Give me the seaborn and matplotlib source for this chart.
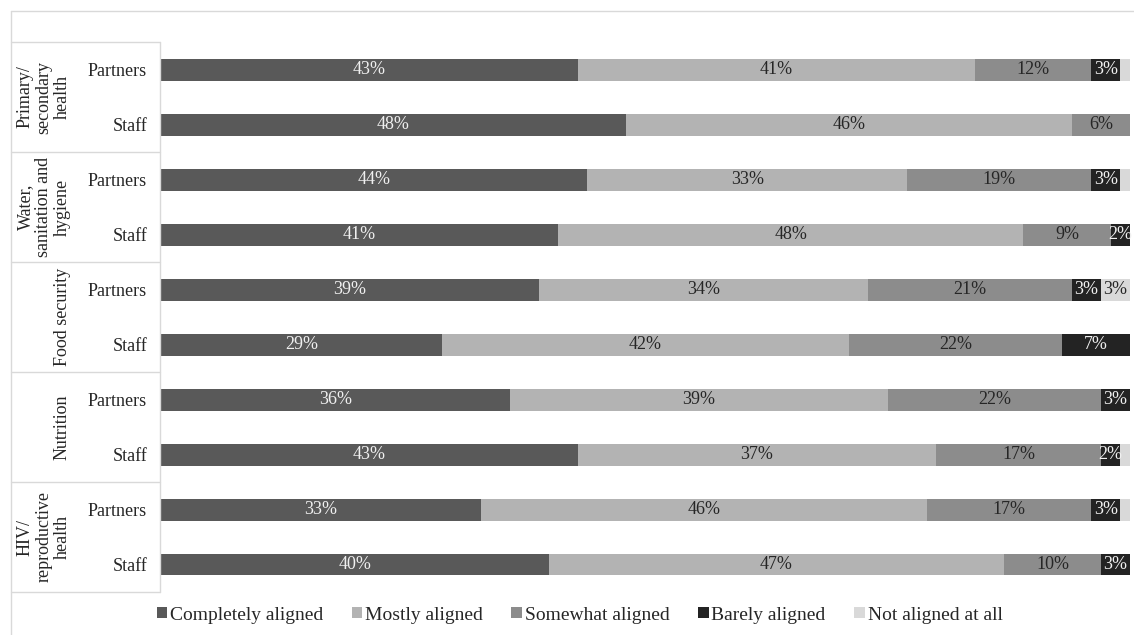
import numpy as np
import pandas as pd
import seaborn as sns
import matplotlib.pyplot as plt
from matplotlib.patches import Patch
from matplotlib.lines import Line2D
from matplotlib.transforms import blended_transform_factory

# Sectors and respondent groups
sectors = ["Primary/\nsecondary\nhealth", "Water,\nsanitation and\nhygiene",
           "Food security", "Nutrition", "HIV/\nreproductive\nhealth"]
groups = ["Partners", "Staff"]

# Alignment categories
categories = ["Completely aligned", "Mostly aligned", "Somewhat aligned",
              "Barely aligned", "Not aligned at all"]

# Percentages per bar (top to bottom), one list per category
completely = [43, 48, 44, 41, 39, 29, 36, 43, 33, 40]
mostly     = [41, 46, 33, 48, 34, 42, 39, 37, 46, 47]
somewhat   = [12, 6, 19, 9, 21, 22, 22, 17, 17, 10]
barely     = [3, 0, 3, 2, 3, 7, 3, 2, 3, 3]
not_at_all = [1, 0, 1, 0, 3, 0, 0, 1, 1, 0]

colors = ["#595959", "#b3b3b3", "#8c8c8c", "#232323", "#d9d9d9"]
text_colors = ["#f0f0f0", "#262626", "#262626", "#f0f0f0", "#262626"]

values = np.array([completely, mostly, somewhat, barely, not_at_all], dtype=float)
cumulative = values.cumsum(axis=0)

row_ids = [f"{s}|{g}" for s in sectors for g in groups]

records = []
for ci, cat in enumerate(categories):
    for ri, rid in enumerate(row_ids):
        records.append({"row": rid, "category": cat, "cum": cumulative[ci, ri]})
df = pd.DataFrame(records)

sns.set_theme(style="white")
plt.rcParams["font.family"] = ["Liberation Serif", "DejaVu Serif"]

FS = 13
W, H = 1134, 635
fig = plt.figure(figsize=(W / 100, H / 100), dpi=100)
ax = fig.add_axes([161 / W, 1 - 592 / H, (1130 - 161) / W, (592 - 42) / H])

# Draw cumulative totals from the widest down so each segment shows on top
draw_order = categories[::-1]
sns.barplot(data=df, y="row", x="cum", hue="category", order=row_ids,
            hue_order=draw_order, palette=dict(zip(categories, colors)),
            dodge=False, orient="h", width=0.4, ax=ax, legend=False,
            linewidth=0, saturation=1)

ax.set_xlim(0, 100)
ax.set_ylim(9.5, -0.5)
ax.set_xlabel("")
ax.set_ylabel("")
ax.set_xticks([])
ax.set_yticks(range(len(row_ids)))
ax.set_yticklabels([g for _ in sectors for g in groups], fontsize=FS, color="#262626")
ax.tick_params(axis="y", length=0, pad=10)
for sp in ax.spines.values():
    sp.set_visible(False)

# Segment value labels
for ri in range(len(row_ids)):
    left = 0.0
    for ci in range(len(categories)):
        v = values[ci, ri]
        if v >= 2:
            ax.text(left + v / 2, ri, f"{int(v)}%", ha="center", va="center",
                    fontsize=FS, color=text_colors[ci])
        left += v

# Table lines for the sector column
line_col = "#d9d9d9"
tr = blended_transform_factory(fig.transFigure, ax.transData)
for b in np.arange(-0.5, 10, 2):
    ax.add_line(Line2D([11 / W, 160 / W], [b, b], transform=tr, color=line_col,
                       lw=1, clip_on=False))
ax.add_line(Line2D([160 / W, 160 / W], [-0.5, 9.5], transform=tr, color=line_col,
                   lw=1, clip_on=False))
fig.add_artist(Line2D([11 / W, 11 / W], [0, 1 - 11 / H], color=line_col, lw=1))
fig.add_artist(Line2D([11 / W, 1], [1 - 11 / H, 1 - 11 / H], color=line_col, lw=1))

# Rotated sector labels
for si, s in enumerate(sectors):
    yc = 2 * si + 0.5
    ax.text(71 / W, yc, s, transform=tr, rotation=90, ha="right", va="center",
            multialignment="center", fontsize=FS, color="#262626", linespacing=1.12)

handles = [Patch(facecolor=c, edgecolor="none", label=l) for c, l in zip(colors, categories)]
fig.legend(handles=handles, loc="center", bbox_to_anchor=(0.511, 1 - 615 / H), ncol=5,
           frameon=False, fontsize=14, handlelength=0.55, handleheight=0.55,
           handletextpad=0.15, columnspacing=1.45, labelcolor="#262626")

fig.savefig("out.png", dpi=100)
